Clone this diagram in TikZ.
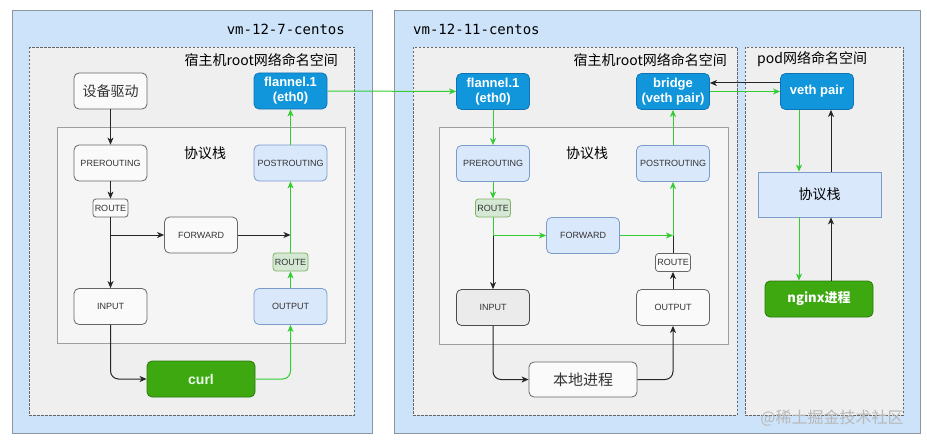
\documentclass[tikz,border=0pt]{standalone}
\usepackage{fontspec}
\setmainfont{Liberation Sans}
\newfontfamily\cjk{Noto Sans CJK SC}
\newfontfamily\vmfont{DejaVu Sans Mono}
\usetikzlibrary{arrows.meta}
\definecolor{vmfill}{HTML}{CCE3FA}
\definecolor{vmline}{HTML}{8C959F}
\definecolor{nsfill}{HTML}{EFEFEF}
\definecolor{stackfill}{HTML}{F5F5F5}
\definecolor{devblue}{HTML}{1296DB}
\definecolor{devline}{HTML}{0E74B5}
\definecolor{lblue}{HTML}{DAE8FC}
\definecolor{lblueline}{HTML}{7B9BCB}
\definecolor{lgreen}{HTML}{D5E8D4}
\definecolor{lgreenline}{HTML}{82B366}
\definecolor{appgreen}{HTML}{3DA810}
\definecolor{appline}{HTML}{2D7A0B}
\definecolor{gline}{HTML}{33CC33}
\begin{document}
\begin{tikzpicture}[x=1pt,y=-1pt,
  box/.style={draw=black!60, fill=black!2, rounded corners=5pt, minimum width=73pt, minimum height=36pt, inner sep=0pt, align=center, font=\fontsize{9}{10}\selectfont, text=black!80, line width=0.8pt},
  hookbox/.style={box, fill=lblue, draw=lblueline},
  devbox/.style={box, fill=devblue, draw=devline, text=white, font=\bfseries\fontsize{13}{15}\selectfont},
  routebox/.style={box, minimum width=35pt, minimum height=18pt, rounded corners=3pt},
  groute/.style={routebox, fill=lgreen, draw=lgreenline},
  appbox/.style={box, minimum width=108pt, fill=appgreen, draw=appline, text=green!8, font=\bfseries\fontsize{14}{16}\selectfont},
  ns/.style={draw=black!60, fill=nsfill, dashed, dash pattern=on 2.5pt off 1.5pt, line width=0.8pt},
  barrow/.style={-{Stealth[length=7pt,width=6pt,inset=2pt]}, line width=1pt, black!85},
  garrow/.style={barrow, gline},
  lbl/.style={font=\cjk\fontsize{14}{16}\selectfont, inner sep=0pt}]
\useasboundingbox (0,0) rectangle (927,444);
\draw[vmline, fill=vmfill, line width=1pt] (12,11) rectangle (372,433);
\draw[vmline, fill=vmfill, line width=1pt] (394,11) rectangle (920,433);
\node[anchor=east, font=\vmfont\fontsize{14}{16}\selectfont, inner sep=0pt] at (345,29) {vm-12-7-centos};
\node[anchor=west, font=\vmfont\fontsize{14}{16}\selectfont, inner sep=0pt] at (413,29) {vm-12-11-centos};
\draw[ns] (29,47) rectangle (354,415);
\draw[ns] (413,47) rectangle (737,415);
\draw[ns] (745,47) rectangle (903,415);
\node[lbl, anchor=east] at (338,60) {宿主机root网络命名空间};
\node[lbl, anchor=east] at (727,60) {宿主机root网络命名空间};
\node[lbl, anchor=west] at (757,59) {pod网络命名空间};
\draw[black!38, fill=stackfill, line width=1pt] (57,127) rectangle (345,343);
\draw[black!38, fill=stackfill, line width=1pt] (439,127) rectangle (728,344);
\node[lbl] at (205,153) {协议栈};
\node[lbl] at (587,153) {协议栈};

\node[box, font=\cjk\fontsize{14}{16}\selectfont] (drv1) at (110.5,91) {设备驱动};
\node[devbox] (fl1) at (290.5,91) {flannel.1\\(eth0)};
\node[box] (pre1) at (110.5,163) {PREROUTING};
\node[hookbox] (post1) at (290.5,163) {POSTROUTING};
\node[routebox] (rt1) at (110.5,208) {ROUTE};
\node[box] (fwd1) at (201,235) {FORWARD};
\node[groute] (rt1b) at (290.5,262) {ROUTE};
\node[box] (in1) at (110.5,306.5) {INPUT};
\node[hookbox] (out1) at (290.5,306.5) {OUTPUT};
\node[appbox] (curl) at (201,379) {curl};

\node[devbox] (fl2) at (493,91.5) {flannel.1\\(eth0)};
\node[devbox] (br) at (673,91.5) {bridge\\(veth pair)};
\node[hookbox] (pre2) at (493,163.5) {PREROUTING};
\node[hookbox] (post2) at (673,163.5) {POSTROUTING};
\node[groute] (rt2) at (493,208) {ROUTE};
\node[hookbox] (fwd2) at (583,235.5) {FORWARD};
\node[routebox] (rt2b) at (673,262.5) {ROUTE};
\node[box, fill=black!8, draw=black!70] (in2) at (493,307.5) {INPUT};
\node[box] (out2) at (673,307.5) {OUTPUT};
\node[box, minimum width=108pt, minimum height=35pt, font=\cjk\fontsize{15}{17}\selectfont] (loc) at (583,379.5) {本地进程};

\node[devbox] (veth) at (817,91.5) {veth pair};
\node[hookbox, rounded corners=0pt, minimum width=123pt, minimum height=45pt, font=\cjk\fontsize{14}{16}\selectfont, text=black] (pstack) at (819.5,194.5) {协议栈};
\node[appbox, text=white, font=\cjk\bfseries\fontsize{13}{15}\selectfont] (nginx) at (819,299) {nginx进程};

\draw[barrow] (drv1) -- (pre1);
\draw[barrow] (pre1) -- (rt1);
\draw[barrow] (rt1) -- (in1);
\draw[barrow] (rt1 |- fwd1) -- (fwd1);
\draw[barrow] (fwd1) -- (post1 |- fwd1);
\draw[barrow, rounded corners=8pt] (in1) |- (curl);
\draw[garrow, rounded corners=8pt] (curl) -| (out1);
\draw[garrow] (out1) -- (rt1b);
\draw[garrow] (rt1b) -- (post1);
\draw[garrow] (post1) -- (fl1);
\draw[garrow] (fl1) -- (fl2);

\draw[garrow] (fl2) -- (pre2);
\draw[garrow] (pre2) -- (rt2);
\draw[gline, line width=1pt] (rt2) -- (rt2 |- fwd2);
\draw[garrow] (rt2 |- fwd2) -- (fwd2);
\draw[barrow] (rt2 |- fwd2) -- (in2);
\draw[garrow] (fwd2) -- (post2 |- fwd2);
\draw[barrow, rounded corners=8pt] (in2) |- (loc);
\draw[barrow, rounded corners=8pt] (loc) -| (out2);
\draw[barrow] (out2) -- (rt2b);
\draw[black!85, line width=1pt] (rt2b) -- (rt2b |- fwd2);
\draw[garrow] (post2 |- fwd2) -- (post2);
\draw[garrow] (post2) -- (br);

\draw[barrow] ([yshift=8.5pt]veth.west) -- ([yshift=8.5pt]br.east);
\draw[garrow] (br) -- (veth);
\coordinate (vl) at ([xshift=-18pt]veth.south);
\coordinate (vr) at ([xshift=14pt]veth.south);
\draw[garrow] (vl) -- (vl |- pstack.north);
\draw[garrow] (vl |- pstack.south) -- (vl |- nginx.north);
\draw[barrow] (vr |- nginx.north) -- (vr |- pstack.south);
\draw[barrow] (vr |- pstack.north) -- (vr);

\node[font=\cjk\fontsize{16}{18}\selectfont, text=black!28, inner sep=0pt] (mark) at (832,418) {@稀土掘金技术社区};
\end{tikzpicture}
\end{document}
